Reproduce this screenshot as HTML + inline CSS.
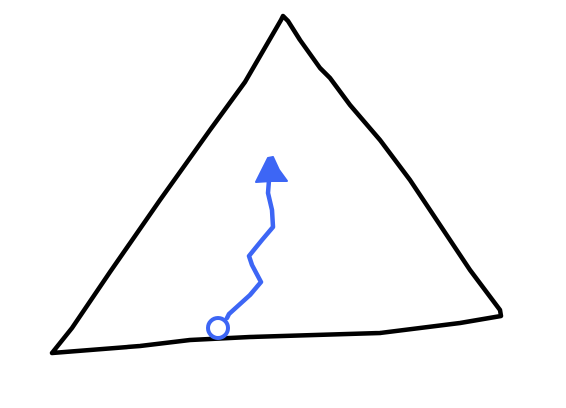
<!DOCTYPE html>
<html><head><meta charset="utf-8"><style>html,body{margin:0;padding:0;background:#fff}svg{display:block}</style></head>
<body>
<svg width="566" height="408" viewBox="0 0 566 408">
<path d="M52,353 L72,328 L110,272 L160,200 L210,130 L245,82 L281,20 L283,16 L288,21 L300,40 L320,68 L330,78 L350,105 L380,140 L410,180 L440,225 L470,270 L485,290 L500,310 L501,316 L460,323 L380,333 L250,337 L190,340 L140,346 L52,353" fill="none" stroke="#000" stroke-width="4.5" stroke-linejoin="round" stroke-linecap="round"/>
<circle cx="218" cy="328" r="10" fill="none" stroke="#3d66f5" stroke-width="4"/>
<path d="M227,318 L229,314 L250,295 L261,282 L252,265 L249,256 L262,240 L273,227 L272,210 L268,193 L269,180" fill="none" stroke="#3d66f5" stroke-width="4.5" stroke-linejoin="round" stroke-linecap="round"/>
<path d="M256,182 L262,170 L268,158 L273,157 L279,170 L287,181 L272,181 Z" fill="#3d66f5" stroke="#3d66f5" stroke-width="2" stroke-linejoin="round"/>
</svg>
</body></html>
